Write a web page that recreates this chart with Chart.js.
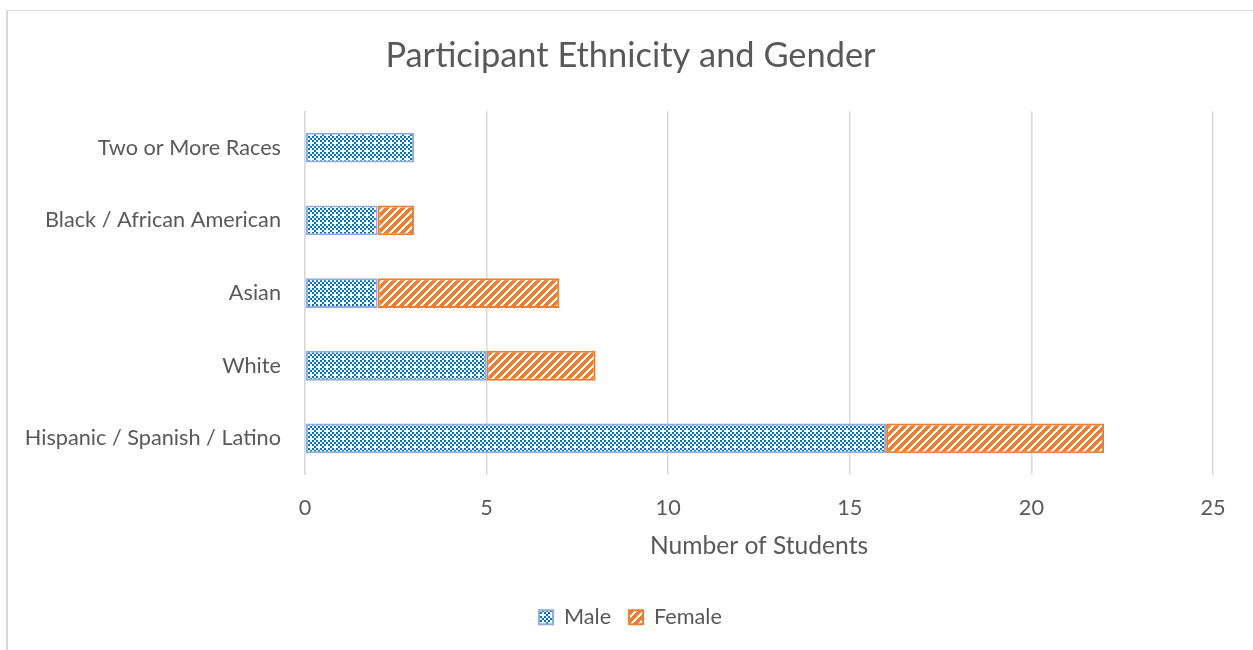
<!DOCTYPE html>
<html>
<head>
<meta charset="utf-8">
<script src="https://cdn.jsdelivr.net/npm/chart.js@4.4.1/dist/chart.umd.min.js"></script>
<style>
  html, body { margin: 0; padding: 0; background: #fff; overflow: hidden; }
  #frame { position: absolute; left: 6px; top: 10px; width: 1300px; height: 700px;
           border-left: 2px solid #D9D9D9; border-top: 1px solid #D9D9D9; }
  #wrap { position: absolute; left: 0; top: 0; width: 1253px; height: 650px; }
</style>
</head>
<body>
<div id="frame"></div>
<div id="wrap"><canvas id="c" width="1253" height="650"></canvas></div>
<script>
const categories = ["Two or More Races", "Black / African American", "Asian", "White", "Hispanic / Spanish / Latino"];
const maleValues = [3, 2, 2, 5, 16];
const femaleValues = [0, 1, 5, 3, 6];
const seriesNames = ["Male", "Female"];
const xTicks = [0, 5, 10, 15, 20, 25];
const titleText = "Participant Ethnicity and Gender";
const xAxisTitle = "Number of Students";

const FONT = "Lato";
function fitSize(text, target) {
  const ctx = document.createElement("canvas").getContext("2d");
  ctx.font = "100px " + FONT;
  return Math.round(100 * target / ctx.measureText(text).width * 10) / 10;
}

function makeMalePattern() {
  const c = document.createElement("canvas"); c.width = 8; c.height = 8;
  const g = c.getContext("2d");
  g.fillStyle = "#fff"; g.fillRect(0, 0, 8, 8);
  g.fillStyle = "#0070C0";
  for (let y = 0; y < 8; y++) for (let x = 0; x < 8; x++) {
    if (((x >> 1) + (y >> 1)) % 2 === 0 && !(x >= 6 && y >= 6)) g.fillRect(x, y, 1, 1);
  }
  return g.createPattern(c, "repeat");
}
function makeFemalePattern() {
  const c = document.createElement("canvas"); c.width = 8; c.height = 8;
  const g = c.getContext("2d");
  g.fillStyle = "#fff"; g.fillRect(0, 0, 8, 8);
  g.fillStyle = "#ED7D31";
  for (let y = 0; y < 8; y++) for (let x = 0; x < 8; x++) {
    if ((x + y) % 8 < 5) g.fillRect(x, y, 1, 1);
  }
  return g.createPattern(c, "repeat");
}

function build() {
  const titleSize = fitSize(titleText, 490);
  const tickSize = fitSize("Hispanic / Spanish / Latino", 256);
  const axisTitleSize = fitSize(xAxisTitle, 218);
  const grey = "#595959";

  new Chart(document.getElementById("c"), {
    type: "bar",
    data: {
      labels: categories,
      datasets: [
        { label: seriesNames[0], data: maleValues, backgroundColor: makeMalePattern(),
          borderColor: "#8FAADC", borderWidth: 2, borderSkipped: false },
        { label: seriesNames[1], data: femaleValues, backgroundColor: makeFemalePattern(),
          borderColor: "#ED7D31", borderWidth: 2, borderSkipped: false }
      ]
    },
    options: {
      indexAxis: "y",
      responsive: false,
      animation: false,
      devicePixelRatio: 1,
      categoryPercentage: 1,
      barPercentage: 0.41,
      layout: { padding: { top: 0, right: 40, bottom: 12, left: 48 } },
      plugins: {
        title: { display: true, text: titleText, color: grey,
                 font: { family: FONT, size: titleSize, weight: "normal" },
                 padding: { top: 35, bottom: 35 } },
        legend: { position: "bottom",
                  labels: { color: grey, font: { family: FONT, size: tickSize },
                            boxWidth: 14, boxHeight: 14, padding: 18 } },
        tooltip: { enabled: false }
      },
      scales: {
        x: {
          stacked: true, min: 0, max: 25,
          afterBuildTicks: (s) => { s.ticks = xTicks.map(v => ({ value: v })); },
          afterFit: (s) => { s.height = 113.5; },
          ticks: { color: grey, font: { family: FONT, size: tickSize }, padding: 20 },
          grid: { color: "#D9D9D9", lineWidth: 1.5, drawTicks: false },
          border: { display: false },
          title: { display: true, text: xAxisTitle, color: grey,
                   font: { family: FONT, size: axisTitleSize }, padding: { top: 12, bottom: 27 } }
        },
        y: {
          stacked: true,
          afterFit: (s) => { s.width = 257; s._computeLabelArea = () => undefined; },
          ticks: { color: grey, font: { family: FONT, size: tickSize }, padding: 24 },
          grid: { display: false, drawTicks: false },
          border: { display: true, color: "#D9D9D9", width: 1.5 }
        }
      }
    }
  });
}
if (document.fonts && document.fonts.load) {
  document.fonts.load("20px " + FONT).then(build, build);
} else build();
</script>
</body>
</html>
